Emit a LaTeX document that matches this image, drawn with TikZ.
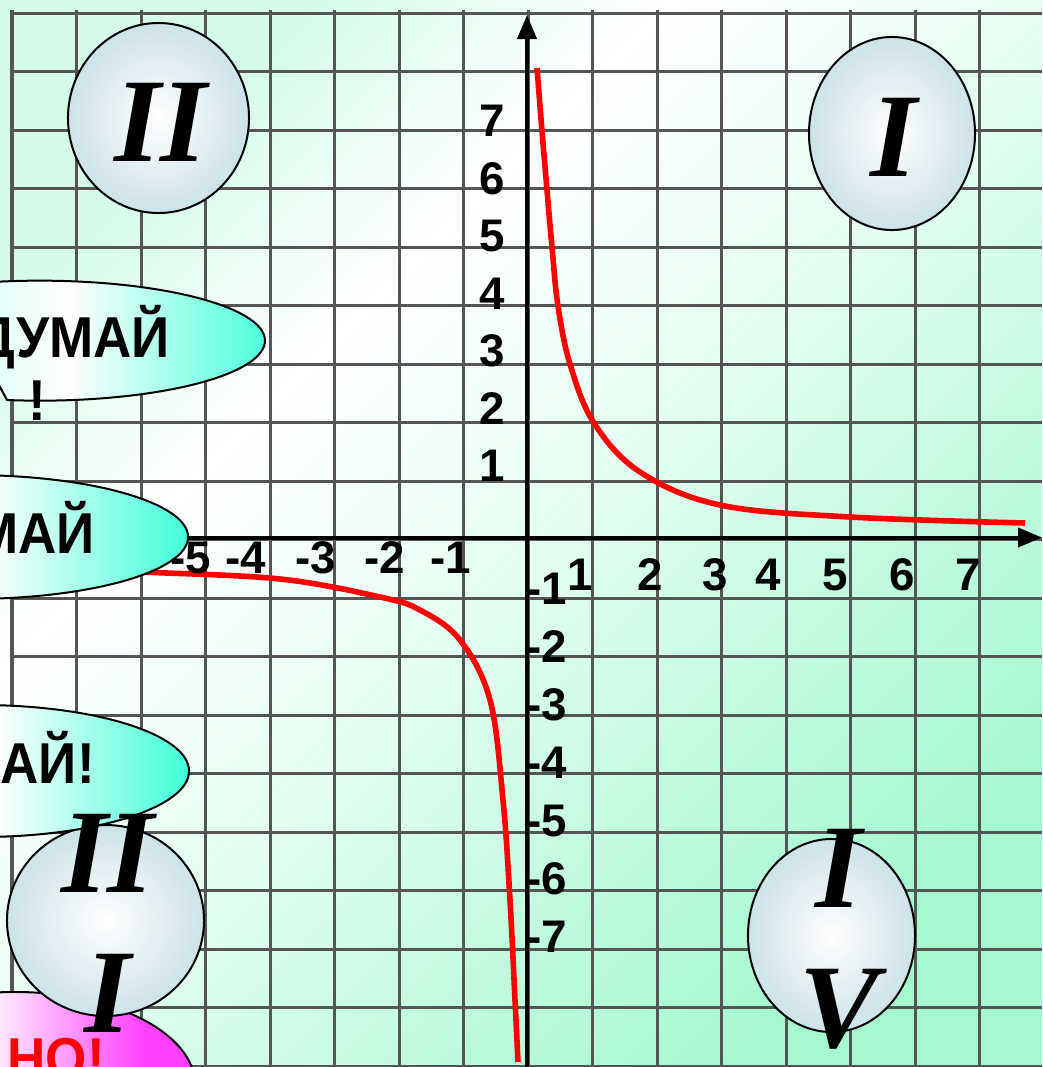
\documentclass[tikz,border=0pt]{standalone}
\usepackage{fontspec}
\setmainfont{Liberation Serif}
\setsansfont{Liberation Sans}
\newfontfamily\bubfont[FakeStretch=0.92]{Liberation Sans}
\usetikzlibrary{arrows.meta, positioning, shapes.geometric}
\definecolor{gridgray}{RGB}{85,85,85}
\definecolor{mintA}{RGB}{212,252,233}
\definecolor{mintB}{RGB}{229,255,242}
\definecolor{mintC}{RGB}{200,251,227}
\definecolor{mintD}{RGB}{166,248,208}
\definecolor{aqua}{RGB}{64,255,216}
\definecolor{pinkish}{RGB}{255,64,255}
\definecolor{ovalblue}{RGB}{205,226,233}
\pgfdeclarehorizontalshading{bgshade}{100bp}{color(0bp)=(mintA); color(25bp)=(mintA);
  color(37bp)=(white); color(51bp)=(mintB); color(61bp)=(mintC); color(75bp)=(mintD);
  color(100bp)=(mintD)}
\pgfdeclarehorizontalshading{aquashade}{100bp}{color(0bp)=(aqua!50); color(25bp)=(aqua!50);
  color(52bp)=(white); color(75bp)=(aqua); color(100bp)=(aqua)}
\pgfdeclarehorizontalshading{pinkshade}{100bp}{color(0bp)=(white); color(25bp)=(white);
  color(45bp)=(white); color(68bp)=(pinkish); color(100bp)=(pinkish)}
\newcommand\pxu{0.025cm}
\tikzset{
  gridline/.style={gridgray, line width=0.075cm},
  axis/.style={black, line width=0.1cm, -{Triangle[length=0.6cm, width=0.475cm]}},
  branch/.style={red, line width=0.14cm},
  num/.style={font=\sffamily\bfseries\fontsize{32.5}{39}\selectfont, inner sep=0},
  quad/.style={ellipse, draw=black, line width=0.05cm, inner sep=0,
               inner color=white, outer color=ovalblue},
  roman/.style={font=\rmfamily\bfseries\itshape\fontsize{85}{99.6}\selectfont,
                inner sep=0, align=center},
  think/.style={draw=black, line width=0.05cm, shade, shading=aquashade},
  thinkoval/.style={think, ellipse, inner sep=0},
  wowoval/.style={ellipse, draw=black, line width=0.05cm, inner sep=0,
                  shade, shading=pinkshade},
  bubtext/.style={font=\bubfont\bfseries\fontsize{41}{49}\selectfont, inner sep=0},
}
\begin{document}
\begin{tikzpicture}[x=\pxu, y=-\pxu]
  \useasboundingbox (0,0) rectangle (1042,1067);
  \shade[shading=bgshade, shading angle=-45] (0,0) rectangle (1042,1067);

  \foreach \k in {0,...,15}
    \draw[gridline] ({12+64.5*\k},10) -- ({12+64.5*\k},1067);
  \foreach \k in {0,...,18}
    \draw[gridline] (12,{13+58.5*\k}) -- (1042,{13+58.5*\k});

  \coordinate (xs) at (12,537.5);
  \coordinate (xe) at (1042,537.5);
  \coordinate (ys) at (527,1067);
  \coordinate (ye) at (527,15);
  \draw[axis] (xs) -- (xe);
  \draw[axis] (ys) -- (ye);

  \draw[branch] plot[smooth, tension=0.6] coordinates {(537,68) (542,131) (547,190)
    (552,247) (558,306) (570,364) (594,423) (640,472) (720,505) (850,517) (1025,523)};
  \draw[branch] plot[smooth, tension=0.6] coordinates {(60,568) (143,572) (280,579)
    (380,597) (420,610) (460,640) (490,700) (503,800) (510,900) (515,1000) (518,1062)};

  \node[wowoval, minimum width=9cm, minimum height=4.65cm] (b4) at (15,1085) {};
  \node[bubtext, text=red, anchor=base east] (t4) at (105,1078) {НО!};

  \node[quad, minimum width=4.525cm, minimum height=4.75cm]  (q2) at (158.5,118) {};
  \node[quad, minimum width=4.15cm, minimum height=4.825cm]  (q1) at (892,133.5) {};
  \node[quad, minimum width=4.925cm, minimum height=4.775cm] (q3) at (105.5,920.5) {};
  \node[quad, minimum width=4.175cm, minimum height=4.825cm] (q4) at (831.5,935.5) {};

  \path[think] (7,400) arc[start angle=98.43, end angle=-170, x radius=225, y radius=60]
    -- (-30,331) -- cycle;
  \node[thinkoval, minimum width=10.9cm, minimum height=3.1cm] (b2) at (-30,537) {};
  \node[thinkoval, minimum width=10.45cm, minimum height=3.3cm] (b3) at (-20,771) {};
  \node[bubtext, anchor=base east] (t1) at (170,357) {ДУМАЙ};
  \node[bubtext, anchor=base] (t1b) at (37.5,420) {!};
  \node[bubtext, anchor=base east] (t2) at (95,553) {МАЙ};
  \node[bubtext, anchor=base east] (t3) at (95,783) {МАЙ!};

  \foreach \k in {1,...,7}
    \node[num] (yp\k) at (492,{466-57.5*(\k-1)}) {\k};
  \foreach \k in {1,...,7}
    \node[num, anchor=west] (yn\k) at (526,{589+58*(\k-1)}) {-\k};
  \foreach \v/\x in {1/580,2/650,3/715,4/768,5/835,6/902,7/968}
    \node[num] (xp\v) at (\x,575) {\v};
  \foreach \v/\x in {1/451,2/385,3/316,4/246,5/191}
    \node[num] (xn\v) at (\x,558) {-\v};

  \node[roman] (n2) at (161,122.5) {II};
  \node[roman] (n1) at (894,137.5) {I};
  \node[roman] (n3) at (108,923.5) {II\\I};
  \node[roman] (n4) at (839,939.5) {I\\V};
\end{tikzpicture}
\end{document}
